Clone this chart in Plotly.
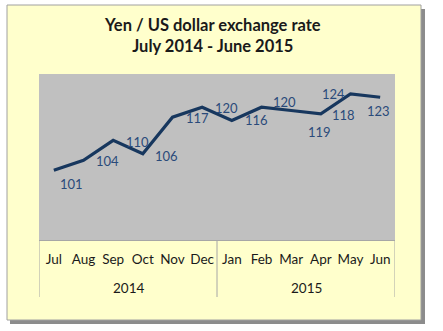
import plotly.graph_objects as go

months = ["Jul", "Aug", "Sep", "Oct", "Nov", "Dec", "Jan", "Feb", "Mar", "Apr", "May", "Jun"]
years = ["2014", "2015"]
rates = [101, 104, 110, 106, 117, 120, 116, 120, 119, 118, 124, 123]
title_lines = ["Yen / US dollar exchange rate", "July 2014 - June 2015"]

# label offsets (px) for each data label, style only
label_dx = [18, 24, 24, 24, 25, 24, 25, 23, 28, 23, -17, -2]
label_dy = [-14, -1, -2, -2, -1, -1, 0, 5, -21, -1, 0, -14]

W, H = 443, 331
FONT = "Lato, 'Liberation Sans', sans-serif"

def px(x):
    return x / W

def py(y):
    return 1 - y / H

fig = go.Figure()
fig.add_trace(go.Scatter(
    x=months, y=rates, mode="lines",
    line=dict(color="#17375E", width=3.2),
    hoverinfo="skip", showlegend=False,
))

shapes = [
    # shadow
    dict(type="rect", xref="paper", yref="paper", x0=px(10), x1=px(425), y0=py(324), y1=py(9),
         fillcolor="#8C8C8C", line=dict(width=0), layer="below"),
    # chart box
    dict(type="rect", xref="paper", yref="paper", x0=px(7), x1=px(421), y0=py(320), y1=py(5),
         fillcolor="#FFFFCC", line=dict(color="#A0A0A0", width=1), layer="below"),
    # plot area
    dict(type="rect", xref="x domain", yref="y domain", x0=0, x1=1, y0=0, y1=1,
         fillcolor="#C0C0C0", line=dict(width=0), layer="below"),
]
# group dividers
n_per = len(months) // len(years)
for k in range(len(years) + 1):
    xv = k * n_per - 0.5
    shapes.append(dict(type="line", xref="x", yref="paper", x0=xv, x1=xv, y0=py(240), y1=py(297),
                       line=dict(color="#A6A6A6", width=1)))

annotations = []
for i, (m, v) in enumerate(zip(months, rates)):
    annotations.append(dict(x=m, y=v, xref="x", yref="y", text=str(v), showarrow=False,
                            xshift=label_dx[i], yshift=label_dy[i],
                            font=dict(family=FONT, size=13, color="#2A4A7A")))
for k, yr in enumerate(years):
    annotations.append(dict(x=k * n_per + (n_per - 1) / 2, y=py(288), xref="x", yref="paper",
                            text=yr, showarrow=False, yanchor="middle",
                            font=dict(family=FONT, size=13.5, color="#1A1A1A")))
annotations.append(dict(x=px(212), y=py(36), xref="paper", yref="paper",
                        text="<b>" + title_lines[0] + "</b><br><b>" + title_lines[1] + "</b>",
                        showarrow=False, yanchor="middle",
                        font=dict(family=FONT, size=16.5, color="#1A1A1A")))

fig.update_layout(
    width=W, height=H,
    margin=dict(l=0, r=0, t=0, b=0),
    paper_bgcolor="white",
    plot_bgcolor="rgba(0,0,0,0)",
    shapes=shapes,
    annotations=annotations,
    xaxis=dict(domain=[px(39), px(395)], type="category", range=[-0.5, 11.5],
               showgrid=False, zeroline=False, showline=True, linecolor="#A6A6A6", linewidth=1,
               ticks="outside", ticklen=7, tickcolor="rgba(0,0,0,0)",
               tickfont=dict(family=FONT, size=13.5, color="#1A1A1A"), fixedrange=True),
    yaxis=dict(domain=[py(240), py(74)], range=[80, 130], showgrid=False, zeroline=False,
               showticklabels=False, showline=False, fixedrange=True),
)
fig.write_html("out.html")
